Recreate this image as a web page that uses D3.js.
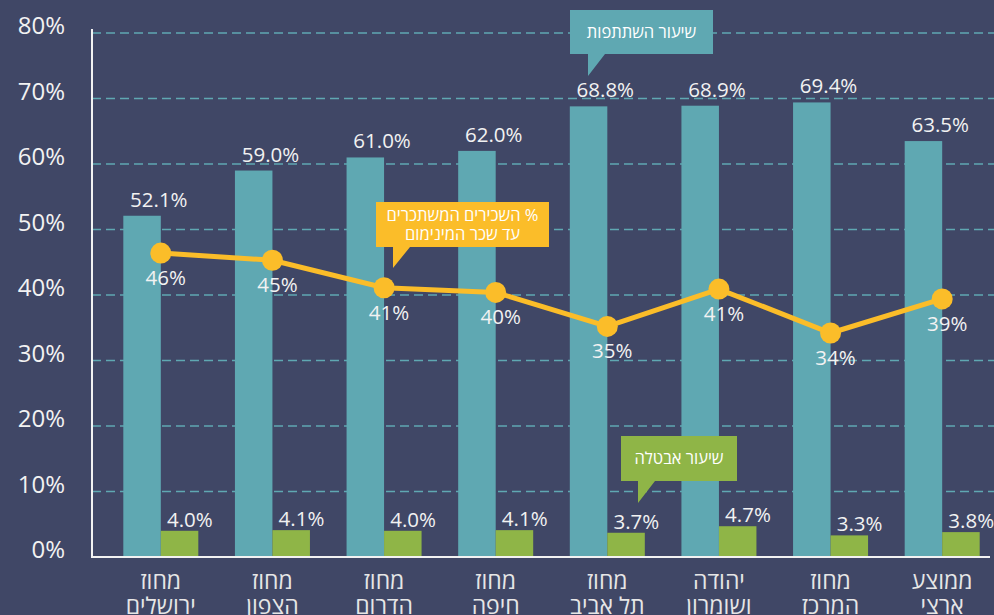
<!DOCTYPE html>
<html>
<head>
<meta charset="utf-8">
<script src="https://cdn.jsdelivr.net/npm/d3@7/dist/d3.min.js"></script>
<style>
  html, body { margin: 0; padding: 0; background: #404766; }
  svg { display: block; font-family: "Open Sans", "DejaVu Sans", sans-serif; }
</style>
</head>
<body>
<svg id="chart"></svg>
<script>
// data
const districts = [
  ['מחוז', 'ירושלים'],
  ['מחוז', 'הצפון'],
  ['מחוז', 'הדרום'],
  ['מחוז', 'חיפה'],
  ['מחוז', 'תל אביב'],
  ['יהודה', 'ושומרון'],
  ['מחוז', 'המרכז'],
  ['ממוצע', 'ארצי']
]
const participation = [52.1, 59.0, 61.0, 62.0, 68.8, 68.9, 69.4, 63.5]
const unemployment = [4.0, 4.1, 4.0, 4.1, 3.7, 4.7, 3.3, 3.8]
const minWage = [46.4, 45.3, 41.1, 40.4, 35.2, 40.9, 34.2, 39.4]
const minWageLabels = ['46%', '45%', '41%', '40%', '35%', '41%', '34%', '39%']
const yTicks = [0, 10, 20, 30, 40, 50, 60, 70, 80]

const width = 994, height = 615
const teal = '#5fa8b2', green = '#8fb547', yellow = '#fbbd29'

const svg = d3.select('#chart')
  .attr('width', width)
  .attr('height', height)

svg.append('rect').attr('width', width).attr('height', height).attr('fill', '#404766')

const x = d3.scaleBand()
  .domain(d3.range(districts.length))
  .range([105, 998])

const y = d3.scaleLinear()
  .domain([0, 80])
  .range([557, 33])

const barW = 37.5

// grid lines
svg.append('g')
  .selectAll('line')
  .data(yTicks.filter(d => d > 0))
  .join('line')
    .attr('x1', 92).attr('x2', width)
    .attr('y1', d => y(d)).attr('y2', d => y(d))
    .attr('stroke', teal)
    .attr('stroke-width', 1.3)
    .attr('stroke-dasharray', '9,5')

// y tick labels
svg.append('g')
  .selectAll('text')
  .data(yTicks)
  .join('text')
    .attr('x', 65)
    .attr('y', d => y(d) - 7)
    .attr('dy', '0.35em')
    .attr('text-anchor', 'end')
    .attr('font-size', 24)
    .attr('fill', '#f2f2f2')
    .text(d => d + '%')

const center = i => x(i) + x.bandwidth() / 2

// bars
svg.append('g')
  .selectAll('rect')
  .data(participation)
  .join('rect')
    .attr('x', (d, i) => center(i) - barW)
    .attr('y', d => y(d))
    .attr('width', barW)
    .attr('height', d => y(0) - y(d))
    .attr('fill', teal)

svg.append('g')
  .selectAll('rect')
  .data(unemployment)
  .join('rect')
    .attr('x', (d, i) => center(i))
    .attr('y', d => y(d))
    .attr('width', barW)
    .attr('height', d => y(0) - y(d))
    .attr('fill', green)

// bar labels
svg.append('g')
  .selectAll('text')
  .data(participation)
  .join('text')
    .attr('x', (d, i) => center(i) - 2)
    .attr('y', d => y(d) - 9)
    .attr('text-anchor', 'middle')
    .attr('font-size', 20.5)
    .attr('fill', '#f2f2f2')
    .text(d => d.toFixed(1) + '%')

svg.append('g')
  .selectAll('text')
  .data(unemployment)
  .join('text')
    .attr('x', (d, i) => center(i) + 29)
    .attr('y', d => y(d) - 4)
    .attr('text-anchor', 'middle')
    .attr('font-size', 20.5)
    .attr('fill', '#f2f2f2')
    .text(d => d.toFixed(1) + '%')

// axes lines
svg.append('line')
  .attr('x1', 92).attr('x2', 92).attr('y1', 29).attr('y2', 557)
  .attr('stroke', '#f2f2f2').attr('stroke-width', 2)
svg.append('line')
  .attr('x1', 91).attr('x2', 990).attr('y1', 557).attr('y2', 557)
  .attr('stroke', '#f2f2f2').attr('stroke-width', 2)

// line for min wage
const line = d3.line()
  .x((d, i) => center(i))
  .y(d => y(d))

svg.append('path')
  .datum(minWage)
  .attr('fill', 'none')
  .attr('stroke', yellow)
  .attr('stroke-width', 5)
  .attr('d', line)

svg.append('g')
  .selectAll('circle')
  .data(minWage)
  .join('circle')
    .attr('cx', (d, i) => center(i))
    .attr('cy', d => y(d))
    .attr('r', 10.5)
    .attr('fill', yellow)

svg.append('g')
  .selectAll('text')
  .data(minWage)
  .join('text')
    .attr('x', (d, i) => center(i) + 5)
    .attr('y', d => y(d) + 32)
    .attr('text-anchor', 'middle')
    .attr('font-size', 20.5)
    .attr('fill', '#f2f2f2')
    .text((d, i) => minWageLabels[i])

// category labels
const cat = svg.append('g')
  .selectAll('text')
  .data(districts)
  .join('text')
    .attr('x', (d, i) => center(i))
    .attr('text-anchor', 'middle')
    .attr('font-size', 23)
    .attr('fill', '#e6e6e6')
cat.append('tspan').attr('x', (d, i) => center(i)).attr('y', 589).text(d => d[0])
cat.append('tspan').attr('x', (d, i) => center(i)).attr('y', 614).text(d => d[1])

// callouts
function callout(bx, by, bw, bh, px, tip, fill, lines) {
  const g = svg.append('g')
  g.append('path')
    .attr('d', `M${bx},${by}H${bx + bw}V${by + bh}H${px + 17}L${px},${by + bh + tip}V${by + bh}H${bx}Z`)
    .attr('fill', fill)
  lines.forEach((t, k) => {
    g.append('text')
      .attr('x', bx + bw / 2)
      .attr('y', by + bh / 2 + (k - (lines.length - 1) / 2) * 19)
      .attr('dy', '0.35em')
      .attr('text-anchor', 'middle')
      .attr('font-size', 16.5)
      .attr('fill', '#ffffff')
      .text(t)
  })
}

callout(570, 10, 143, 44, 588, 22, teal, ['שיעור השתתפות'])
callout(376, 202, 173, 45, 393, 21, yellow, ['השכירים המשתכרים %', 'עד שכר המינימום'])
callout(621, 436, 116, 45, 638, 22, green, ['שיעור אבטלה'])
</script>
</body>
</html>
